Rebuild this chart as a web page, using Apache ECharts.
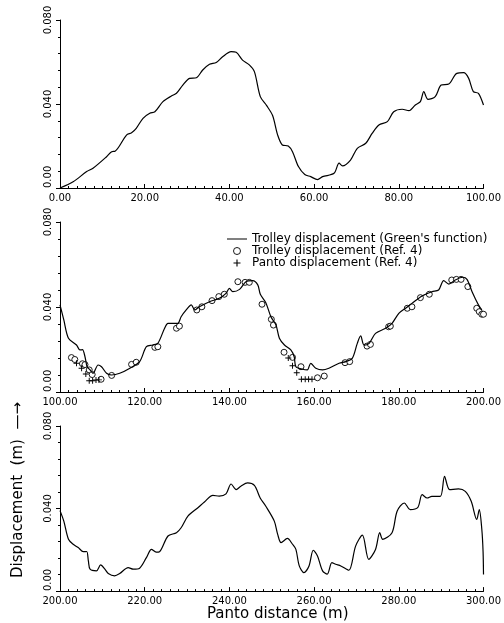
<!DOCTYPE html>
<html>
<head>
<meta charset="utf-8">
<script src="https://cdn.jsdelivr.net/npm/echarts@6/dist/echarts.min.js"></script>
<style>
  html, body { margin: 0; padding: 0; background: #fff; }
  #chart { width: 504px; height: 623px; }
</style>
</head>
<body>
<div id="chart"></div>
<script>
// panel 1 : 0 - 100 m
var dist1 = [0, 3.1, 6.3, 7.8, 11, 12.2, 13, 15.7, 16.9, 18, 19.6, 21.2, 22.4, 24.3, 26.3, 27.5, 29, 30.6, 32.2, 33.7,
  35.3, 36.9, 38.4, 40.4, 41.6, 43.1, 44.7, 45.9, 47.3, 48.8, 50.2, 51.4, 52.5, 53.9, 54.9, 56.3, 57.8, 59.2, 60.8, 62,
  64.7, 65.9, 66.7, 68.6, 70.2, 72.2, 73.7, 75.3, 77.3, 78.8, 80.8, 82.4, 83.9, 85.1, 85.9, 86.9, 88.6, 90, 91.8, 93.7,
  95.3, 96.5, 97.6, 98.8, 100];
var disp1 = [0, 0.003, 0.0078, 0.0094, 0.0149, 0.0173, 0.0175, 0.0252, 0.0263, 0.0284, 0.0332, 0.0356, 0.0363, 0.0411, 0.0438, 0.0451, 0.049, 0.0522, 0.0525, 0.0562,
  0.0589, 0.0598, 0.0625, 0.0649, 0.0646, 0.0609, 0.0586, 0.0554, 0.0435, 0.0392, 0.0345, 0.0252, 0.0205, 0.02, 0.0173, 0.0102, 0.0064, 0.0054, 0.004, 0.0054,
  0.007, 0.0118, 0.0105, 0.0133, 0.0189, 0.0213, 0.026, 0.03, 0.0316, 0.0363, 0.0375, 0.0368, 0.0395, 0.0411, 0.0459, 0.0422, 0.0435, 0.049, 0.0495, 0.0546,
  0.0549, 0.0522, 0.0459, 0.0451, 0.0395];

// panel 2 : 100 - 200 m
var dist2 = [100, 100.9, 102, 103.9, 104.7, 105.3, 105.9, 106.4, 107.1, 107.8, 109, 109.8, 111, 112.2, 114.1, 116.5, 118.8, 120.4, 121.9, 123.1,
  124.7, 125.5, 126.7, 127.8, 128.6, 129.8, 131, 131.8, 132.9, 135.3, 137.6, 139.2, 140, 140.8, 142.4, 143.9, 145.5, 146.7, 147.3, 148.6,
  149.8, 151, 151.8, 153, 154.5, 155.3, 155.7, 157.3, 158.4, 159.2, 160.4, 162, 163.5, 165.9, 167.5, 169, 170.2, 171, 171.8, 173,
  174.5, 176.9, 178.4, 180, 181.6, 183.1, 185.5, 187.8, 189.4, 190.6, 191.8, 193.3, 195.1, 196.1, 197.3, 198.8, 199.6];
var disp2 = [0.041, 0.0339, 0.0253, 0.0221, 0.0198, 0.0199, 0.0166, 0.0119, 0.0104, 0.0088, 0.0127, 0.0119, 0.0088, 0.008, 0.0088, 0.0112, 0.0143, 0.0213, 0.0221, 0.0229,
  0.03, 0.0323, 0.0323, 0.0323, 0.0354, 0.0386, 0.041, 0.0386, 0.0401, 0.0425, 0.0441, 0.0464, 0.0488, 0.0472, 0.0483, 0.0519, 0.0524, 0.0504, 0.046, 0.042,
  0.0354, 0.0315, 0.0253, 0.0221, 0.0198, 0.0166, 0.0119, 0.0107, 0.0104, 0.0135, 0.0112, 0.0104, 0.0112, 0.0135, 0.0143, 0.0158, 0.0229, 0.0264, 0.0221, 0.0229,
  0.0276, 0.03, 0.0323, 0.037, 0.0394, 0.0417, 0.0452, 0.0472, 0.048, 0.0524, 0.0508, 0.0527, 0.054, 0.053, 0.0472, 0.041, 0.0386];

// Ref. 4 trolley displacement (circles)
var refTrolleyX = [102.7, 103.5, 105.3, 105.9, 106.9, 107.6, 109.7, 112.2, 116.9, 118, 122.4, 123.1, 127.5, 128.2, 132.3, 133.5, 135.9, 137.5, 138.8, 142,
  143.7, 144.7, 147.7, 149.9, 150.4, 152.9, 154.9, 156.9, 160.8, 162.4, 167.3, 168.4, 172.5, 173.3, 177.6, 178, 182, 183.1, 185.1, 187.2,
  192.5, 193.6, 194.7, 196.3, 198.4, 199, 199.6, 200];
var refTrolleyY = [0.0162, 0.0153, 0.0133, 0.0129, 0.0104, 0.0082, 0.006, 0.0078, 0.013, 0.014, 0.021, 0.0213, 0.03, 0.031, 0.0386, 0.0401, 0.043, 0.0449, 0.046, 0.0519,
  0.0516, 0.0516, 0.0413, 0.0342, 0.0315, 0.0187, 0.0163, 0.0119, 0.0067, 0.0075, 0.0138, 0.0143, 0.0216, 0.0224, 0.0307, 0.031, 0.0394, 0.0401, 0.0444, 0.046,
  0.0527, 0.053, 0.053, 0.0496, 0.0394, 0.0378, 0.0366, 0.0366];

// Ref. 4 panto displacement (crosses)
var refPantoX = [103.9, 105.1, 106.1, 106.9, 107.7, 108.5, 109.2, 153.9, 154.9, 155.9, 157, 157.9, 158.7, 159.5];
var refPantoY = [0.0135, 0.0112, 0.0085, 0.0053, 0.0053, 0.0056, 0.0057, 0.016, 0.0124, 0.0091, 0.006, 0.006, 0.006, 0.006];

// panel 3 : 200 - 300 m
var dist3 = [200, 200.9, 202, 203.1, 204.3, 205.5, 206.3, 206.7, 207.1, 208.6, 209.6, 210.6, 211.4, 212.9, 214.1, 216.1, 217.3, 218.8, 220.4, 221.6,
  222.7, 223.5, 225.5, 227.5, 228.6, 230.2, 232.5, 234.1, 236.1, 237.6, 239.2, 240.4, 241.6, 242.7, 244.3, 245.9, 247.3, 248.6, 250.6, 251.4,
  252.2, 253.7, 254.9, 255.7, 256.5, 257.6, 258.8, 259.8, 260.8, 262, 263.1, 264.2, 265.1, 266.3, 268.2, 269.8, 271.4, 272.9, 274.5, 275.5,
  276.2, 278.4, 279.6, 281.3, 282.7, 284.5, 285.5, 286.7, 287.8, 289.8, 290.8, 292, 294.1, 295.7, 297.1, 298.4, 299, 299.6, 299.9, 300];
var disp3 = [0.039, 0.0339, 0.0251, 0.0227, 0.0211, 0.0191, 0.0192, 0.0146, 0.0106, 0.0098, 0.0127, 0.0106, 0.0085, 0.0074, 0.0085, 0.0114, 0.0106, 0.0111, 0.0162, 0.0202,
  0.0189, 0.0191, 0.0267, 0.0283, 0.0307, 0.0363, 0.0403, 0.0432, 0.0464, 0.046, 0.0471, 0.0519, 0.0492, 0.0508, 0.0524, 0.0512, 0.045, 0.0411, 0.0339, 0.0275,
  0.0235, 0.0255, 0.0227, 0.0202, 0.0122, 0.009, 0.0122, 0.0198, 0.017, 0.0098, 0.0082, 0.0138, 0.013, 0.0122, 0.0101, 0.0218, 0.0271, 0.0154, 0.0202, 0.0283,
  0.0251, 0.0283, 0.0387, 0.0427, 0.0395, 0.0406, 0.0467, 0.0451, 0.0459, 0.0459, 0.0556, 0.0492, 0.0495, 0.0483, 0.0435, 0.0347, 0.0395, 0.03, 0.019, 0.008];

var xRanges = [[0, 100], [100, 200], [200, 300]];
var yTicks = [0, 0.04, 0.08];

function pairs(xs, ys) {
  var out = [];
  for (var i = 0; i < xs.length; i++) out.push([xs[i], ys[i]]);
  return out;
}

var font = 'DejaVu Sans';
var grids = [
  { left: 60, width: 425, top: 20, height: 168 },
  { left: 60, width: 425, top: 222, height: 170 },
  { left: 60, width: 425, top: 426, height: 166 }
];

var xAxes = [], yAxes = [];
for (var g = 0; g < 3; g++) {
  xAxes.push({
    type: 'value', gridIndex: g,
    min: xRanges[g][0], max: xRanges[g][1], interval: 20,
    axisLine: { lineStyle: { color: '#000', width: 1 } },
    axisTick: { inside: true, length: 4, lineStyle: { color: '#000' } },
    minorTick: { show: true, splitNumber: 10, length: 2, lineStyle: { color: '#000' } },
    splitLine: { show: false },
    axisLabel: {
      color: '#000', fontFamily: font, fontSize: 10, margin: 5,
      formatter: function (v) { return v.toFixed(2); }
    }
  });
  yAxes.push({
    type: 'value', gridIndex: g,
    min: yTicks[0], max: yTicks[2], interval: 0.04,
    axisLine: { show: true, lineStyle: { color: '#000', width: 1 } },
    axisTick: { show: true, length: 4, lineStyle: { color: '#000' } },
    minorTick: { show: true, splitNumber: 5, length: 2, lineStyle: { color: '#000' } },
    splitLine: { show: false },
    axisLabel: {
      color: '#000', fontFamily: font, fontSize: 10, margin: 7, rotate: 90,
      alignMinLabel: 'left',
      formatter: function (v) { return v === 0 ? '0.00' : v.toFixed(3); }
    }
  });
}
xAxes[2].name = 'Panto distance (m)';
xAxes[2].nameLocation = 'middle';
xAxes[2].nameGap = 9;
xAxes[2].nameTextStyle = { color: '#000', fontFamily: font, fontSize: 15, padding: [0, 0, 0, 12] };

var lineStyle = { color: '#000', width: 1.2 };
var plus = 'path://M0,4.2H10V5.8H0Z M4.2,0H5.8V10H4.2Z';
var dash = 'path://M0,4.5H20V5.5H0Z';

var chart = echarts.init(document.getElementById('chart'), null, { renderer: 'canvas' });
chart.setOption({
  backgroundColor: '#fff',
  animation: false,
  grid: grids,
  xAxis: xAxes,
  yAxis: yAxes,
  legend: {
    orient: 'vertical', left: 227, top: 233, padding: 0,
    itemWidth: 20, itemHeight: 7, itemGap: 0,
    textStyle: { color: '#000', fontFamily: font, fontSize: 12 },
    data: [
      { name: "Trolley displacement (Green's function)", icon: dash },
      { name: 'Trolley displacement (Ref. 4)', itemStyle: { borderWidth: 0.9 } },
      { name: 'Panto displacement (Ref. 4)' }
    ]
  },
  graphic: [{
    type: 'text', x: 18, y: 490, rotation: Math.PI / 2,
    style: {
      text: 'Displacement  (m)  \u2014\u2192', fill: '#000',
      font: '15px "DejaVu Sans"', align: 'center', verticalAlign: 'middle'
    }
  }],
  series: [
    { type: 'line', name: 'Trolley 0-100', xAxisIndex: 0, yAxisIndex: 0, data: pairs(dist1, disp1),
      symbol: 'none', smooth: 0.3, lineStyle: lineStyle, itemStyle: { color: '#000' } },
    { type: 'line', name: "Trolley displacement (Green's function)", xAxisIndex: 1, yAxisIndex: 1, data: pairs(dist2, disp2),
      symbol: 'none', smooth: 0.3, lineStyle: lineStyle, itemStyle: { color: '#000' } },
    { type: 'scatter', name: 'Trolley displacement (Ref. 4)', xAxisIndex: 1, yAxisIndex: 1, data: pairs(refTrolleyX, refTrolleyY),
      symbol: 'circle', symbolSize: 6,
      itemStyle: { color: '#fff', borderColor: '#000', borderWidth: 0.9, opacity: 1 } },
    { type: 'scatter', name: 'Panto displacement (Ref. 4)', xAxisIndex: 1, yAxisIndex: 1, data: pairs(refPantoX, refPantoY),
      symbol: plus, symbolSize: 6, itemStyle: { color: '#000', opacity: 1 } },
    { type: 'line', name: 'Trolley 200-300', xAxisIndex: 2, yAxisIndex: 2, data: pairs(dist3, disp3),
      symbol: 'none', smooth: 0.3, lineStyle: lineStyle, itemStyle: { color: '#000' } }
  ]
});
</script>
</body>
</html>
